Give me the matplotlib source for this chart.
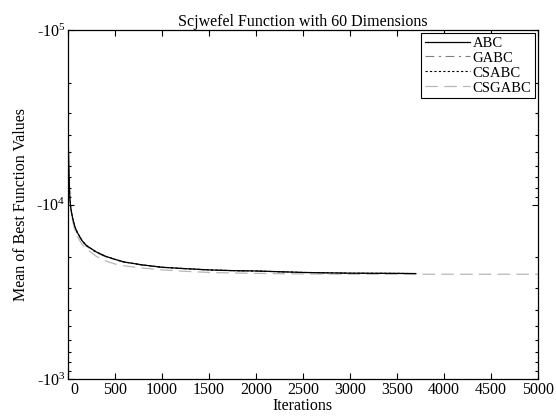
import numpy as np
import matplotlib
matplotlib.use("Agg")
import matplotlib.pyplot as plt
from matplotlib.ticker import FixedLocator, NullFormatter
import matplotlib.transforms as mtransforms

plt.rcParams['font.family'] = ['Liberation Serif', 'DejaVu Serif']
plt.rcParams['mathtext.fontset'] = 'custom'
plt.rcParams['mathtext.rm'] = 'Liberation Serif'
plt.rcParams['mathtext.it'] = 'Liberation Serif:italic'

title = "Scjwefel Function with 60 Dimensions"
xlabel = "Iterations"
ylabel = "Mean of Best Function Values"
series_names = ["ABC", "GABC", "CSABC", "CSGABC"]

# iterations and mean best function values (negative)
iters_short = [0, 5, 10, 20, 30, 50, 75, 100, 150, 200, 300, 400, 500, 600, 800,
               1000, 1250, 1500, 1750, 2000, 2500, 3000, 3500, 3700]
iters_full = [0, 5, 10, 20, 30, 50, 75, 100, 150, 200, 300, 400, 500, 600, 800,
              1000, 1250, 1500, 1750, 2000, 2500, 3000, 3500, 4000, 4500, 5000]

abc = [-28600, -20000, -15000, -10800, -9500, -8300, -7400, -6900, -6200, -5800,
       -5350, -5050, -4850, -4680, -4500, -4370, -4290, -4220, -4180, -4160,
       -4080, -4040, -4030, -4020]
gabc = [-28600, -20000, -14800, -10700, -9400, -8200, -7300, -6800, -6150, -5750,
        -5300, -5020, -4830, -4670, -4490, -4360, -4280, -4210, -4170, -4150,
        -4075, -4035, -4025, -4015]
csabc = [-28600, -20000, -15000, -10800, -9500, -8300, -7400, -6900, -6200, -5800,
         -5350, -5050, -4850, -4680, -4500, -4370, -4290, -4220, -4180, -4160,
         -4080, -4040, -4030, -4020]
csgabc = [-28600, -20000, -14500, -10500, -9200, -8000, -7100, -6550, -5900, -5550,
          -5050, -4750, -4560, -4450, -4320, -4220, -4140, -4080, -4050, -4030,
          -4000, -3990, -3985, -3985, -3985, -3985]

xticks = [0, 500, 1000, 1500, 2000, 2500, 3000, 3500, 4000, 4500, 5000]
ytick_exps = [3, 4, 5]

FS = 11.5

fig = plt.figure(figsize=(5.56, 4.16), dpi=100)
ax = fig.add_axes([0.1223, 0.0889, 0.8453, 0.8390])

ax.plot(iters_short, -np.array(gabc), color='0.5', lw=0.8, ls=(0, (8, 4, 2, 4)), zorder=1, label="GABC")
ax.plot(iters_short, -np.array(csabc), color='black', lw=0.8, ls=(0, (2, 2)), zorder=1.5, label="CSABC")
ax.plot(iters_full, -np.array(csgabc), color='0.72', lw=0.9, ls=(0, (10, 5)), zorder=2, label="CSGABC")
ax.plot(iters_short, -np.array(abc), color='black', lw=0.9, ls='-', zorder=3, label="ABC")

ax.set_yscale('log')
ax.set_ylim(1e3, 1e5)
ax.set_xlim(0, 5000)
ax.set_xticks(xticks)
ax.set_xticklabels([str(t) for t in xticks])
ax.yaxis.set_major_locator(FixedLocator([10.0**e for e in ytick_exps]))
ax.set_yticklabels(["-10$^{%d}$" % e for e in ytick_exps])
minors = [10.0**(e + 1) / k for e in [3, 4] for k in range(2, 10)]
ax.yaxis.set_minor_locator(FixedLocator(minors))
ax.yaxis.set_minor_formatter(NullFormatter())

ax.tick_params(axis='both', which='both', direction='in', top=True, right=True,
               labelsize=FS, width=0.8)
ax.tick_params(axis='both', which='major', length=4, pad=2)
ax.tick_params(axis='y', which='minor', length=2.5)
for s in ax.spines.values():
    s.set_linewidth(0.9)

ax.set_title(title, fontsize=FS, pad=3)
ax.set_xlabel(xlabel, fontsize=FS, labelpad=0)
ax.set_ylabel(ylabel, fontsize=FS, labelpad=5)

handles, labels = ax.get_legend_handles_labels()
order = [labels.index(n) for n in series_names]
leg = ax.legend([handles[i] for i in order], [labels[i] for i in order],
                loc='upper right', bbox_to_anchor=(0.994, 0.992), borderaxespad=0,
                fontsize=10.5, fancybox=False, edgecolor='black', framealpha=1,
                handlelength=3.1, handletextpad=0.2, labelspacing=0.12,
                borderpad=0.25)
leg.get_frame().set_linewidth(0.8)

fig.canvas.draw()
lbl0 = ax.get_xticklabels()[0]
lbl0.set_transform(lbl0.get_transform() + mtransforms.ScaledTranslation(6/100, 0, fig.dpi_scale_trans))

fig.savefig("out.png", dpi=100)
